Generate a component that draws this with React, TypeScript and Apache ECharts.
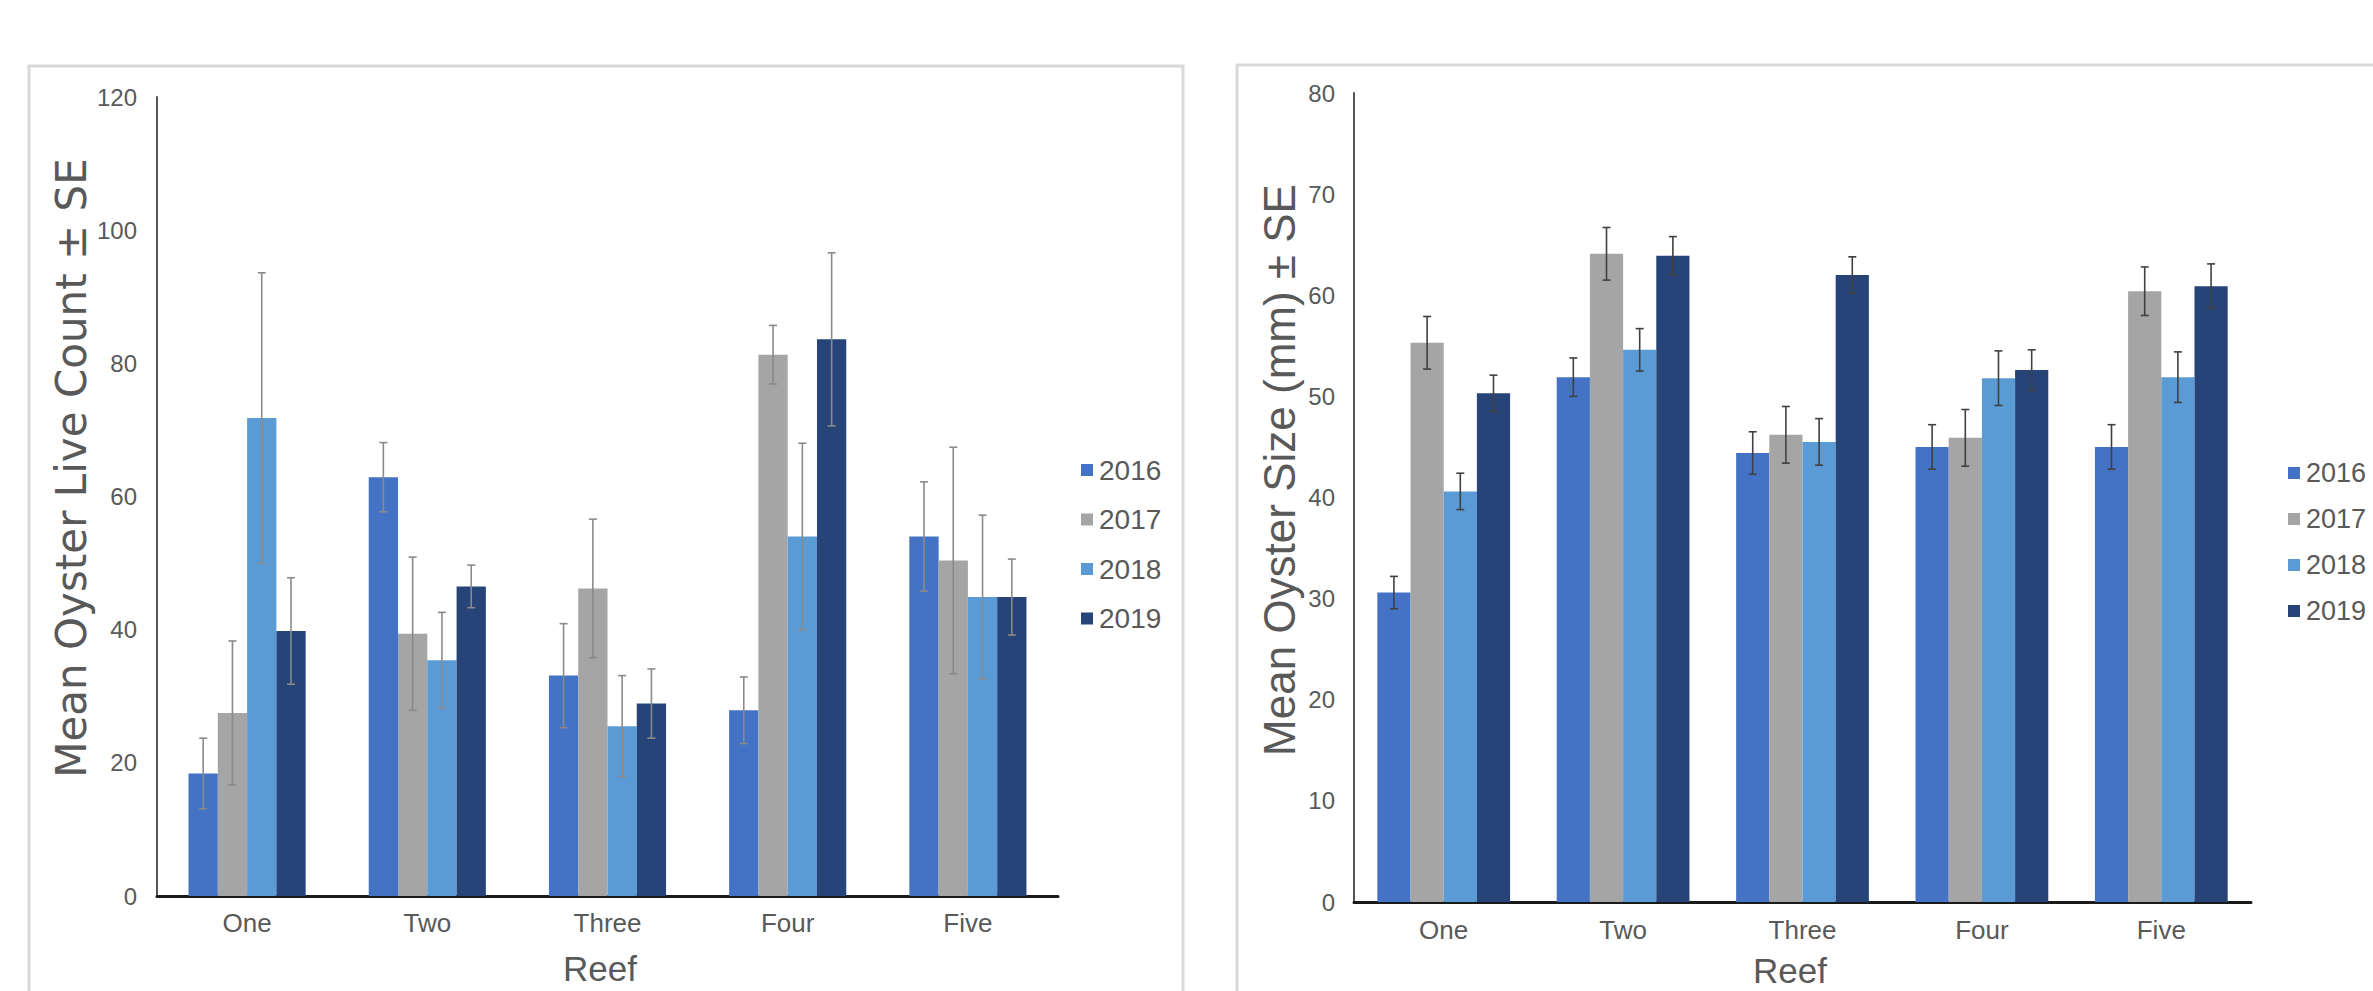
import React, { useEffect, useRef } from "react";
import * as echarts from "echarts";

const reefs = ["One", "Two", "Three", "Four", "Five"];
const years = ["2016", "2017", "2018", "2019"];
const colors = ["#4472C4", "#A5A5A5", "#5B9BD5", "#264478"];

// Left: Mean Oyster Live Count ± SE
const count2016 = [18.4, 62.9, 33.1, 27.9, 54.0];
const count2017 = [27.5, 39.4, 46.2, 81.3, 50.4];
const count2018 = [71.8, 35.4, 25.5, 54.0, 44.9];
const count2019 = [39.8, 46.5, 28.9, 83.6, 44.9];
const countSE2016 = [5.3, 5.2, 7.8, 5.0, 8.2];
const countSE2017 = [10.8, 11.5, 10.4, 4.4, 17.0];
const countSE2018 = [21.8, 7.2, 7.6, 14.0, 12.3];
const countSE2019 = [8.0, 3.2, 5.2, 13.0, 5.7];

// Right: Mean Oyster Size (mm) ± SE
const size2016 = [30.6, 51.9, 44.4, 45.0, 45.0];
const size2017 = [55.3, 64.1, 46.2, 45.9, 60.4];
const size2018 = [40.6, 54.6, 45.5, 51.8, 51.9];
const size2019 = [50.3, 63.9, 62.0, 52.6, 60.9];
const sizeSE2016 = [1.6, 1.9, 2.1, 2.2, 2.2];
const sizeSE2017 = [2.6, 2.6, 2.8, 2.8, 2.4];
const sizeSE2018 = [1.8, 2.1, 2.3, 2.7, 2.5];
const sizeSE2019 = [1.8, 1.9, 1.8, 2.0, 2.2];

const countTicks = { min: 0, max: 120, interval: 20 };
const sizeTicks = { min: 0, max: 80, interval: 10 };

const countMeans = [count2016, count2017, count2018, count2019];
const countSEs = [countSE2016, countSE2017, countSE2018, countSE2019];
const sizeMeans = [size2016, size2017, size2018, size2019];
const sizeSEs = [sizeSE2016, sizeSE2017, sizeSE2018, sizeSE2019];

const FONT = "'Liberation Sans', Arial, Helvetica, sans-serif";
const WIDE = "'DejaVu Sans', 'Liberation Sans', sans-serif";
const TXT = "#595959";

export default function App() {
  const ref = useRef<HTMLDivElement>(null);
  useEffect(() => {
    if (!ref.current) return;
    const chart = echarts.init(ref.current, null, { renderer: "svg" });

    const gapL = 0.35;
    const gapR = 0.26;

    const makeErr = (
      gi: number,
      s: number,
      means: number[],
      ses: number[],
      gap: number,
      color: string
    ) => ({
      type: "custom",
      name: "err" + gi + "_" + s,
      xAxisIndex: gi,
      yAxisIndex: gi,
      z: 5,
      silent: true,
      data: means.map((m, i) => [i, m - ses[i], m + ses[i]]),
      encode: { x: 0, y: [1, 2] },
      renderItem: (params: any, api: any) => {
        const lo = api.coord([api.value(0), api.value(1)]);
        const hi = api.coord([api.value(0), api.value(2)]);
        const catW = api.size([1, 0])[0];
        const bw = (catW * (1 - gap)) / 4;
        const cx = lo[0] + (s - 1.5) * bw;
        const cap = 4;
        const st = { stroke: color, lineWidth: 1.6 };
        return {
          type: "group",
          children: [
            { type: "line", shape: { x1: cx, y1: lo[1], x2: cx, y2: hi[1] }, style: st },
            { type: "line", shape: { x1: cx - cap, y1: lo[1], x2: cx + cap, y2: lo[1] }, style: st },
            { type: "line", shape: { x1: cx - cap, y1: hi[1], x2: cx + cap, y2: hi[1] }, style: st },
          ],
        };
      },
    });

    const series: any[] = [];
    years.forEach((y, s) => {
      series.push({
        type: "bar",
        name: y,
        xAxisIndex: 0,
        yAxisIndex: 0,
        data: countMeans[s],
        itemStyle: { color: colors[s] },
        barGap: "0%",
        barCategoryGap: gapL * 100 + "%",
      });
    });
    years.forEach((y, s) => {
      series.push({
        type: "bar",
        name: y,
        xAxisIndex: 1,
        yAxisIndex: 1,
        data: sizeMeans[s],
        itemStyle: { color: colors[s] },
        barGap: "0%",
        barCategoryGap: gapR * 100 + "%",
      });
    });
    years.forEach((y, s) => series.push(makeErr(0, s, countMeans[s], countSEs[s], gapL, "#8a8a8a")));
    years.forEach((y, s) => series.push(makeErr(1, s, sizeMeans[s], sizeSEs[s], gapR, "#404040")));

    const xAx = (gi: number, margin: number) => ({
      type: "category",
      gridIndex: gi,
      data: reefs,
      axisLine: { show: true, lineStyle: { color: "#1a1a1a", width: 3 } },
      axisTick: { show: false },
      axisLabel: { color: TXT, fontSize: 26, fontFamily: FONT, margin },
      splitLine: { show: false },
    });
    const yAx = (gi: number, t: any, margin: number) => ({
      type: "value",
      gridIndex: gi,
      min: t.min,
      max: t.max,
      interval: t.interval,
      axisLine: { show: true, lineStyle: { color: "#555555", width: 2 } },
      axisTick: { show: false },
      axisLabel: { color: TXT, fontSize: 24, fontFamily: FONT, margin },
      splitLine: { show: false },
    });

    const legend = (left: number, top: number, gap: number, fs: number) => ({
      orient: "vertical",
      left,
      top,
      padding: 0,
      data: years,
      icon: "rect",
      itemWidth: 12,
      itemHeight: 12,
      itemGap: gap,
      selectedMode: false,
      textStyle: { color: TXT, fontSize: fs, fontFamily: FONT, lineHeight: 30, padding: [0, 0, 0, 1] },
    });

    chart.setOption({
      animation: false,
      backgroundColor: "#ffffff",
      grid: [
        { left: 157, top: 97, width: 901, height: 799 },
        { left: 1354, top: 93, width: 897, height: 809 },
      ],
      xAxis: [xAx(0, 14), xAx(1, 15)],
      yAxis: [yAx(0, countTicks, 20), yAx(1, sizeTicks, 19)],
      legend: [legend(1081, 455, 19.5, 28), legend(2288, 458, 16, 27)],
      series,
      graphic: [
        {
          type: "rect",
          shape: { x: 29, y: 66, width: 1154, height: 1000 },
          style: { fill: "none", stroke: "#d9d9d9", lineWidth: 3 },
          silent: true,
        },
        {
          type: "rect",
          shape: { x: 1237, y: 65, width: 1200, height: 1000 },
          style: { fill: "none", stroke: "#d9d9d9", lineWidth: 3 },
          silent: true,
        },
        {
          type: "text",
          x: 71,
          y: 468,
          rotation: Math.PI / 2,
          style: {
            text: "Mean Oyster Live Count ± SE",
            fontSize: 42,
            fontFamily: WIDE,
            fill: TXT,
            align: "center",
            verticalAlign: "middle",
          },
        },
        {
          type: "text",
          x: 1279,
          y: 470,
          rotation: Math.PI / 2,
          style: {
            text: "Mean Oyster Size (mm) ± SE",
            fontSize: 44,
            fontFamily: FONT,
            fill: TXT,
            align: "center",
            verticalAlign: "middle",
          },
        },
        {
          type: "text",
          x: 600,
          y: 968,
          style: { text: "Reef", fontSize: 35, fontFamily: FONT, fill: TXT, align: "center", verticalAlign: "middle" },
        },
        {
          type: "text",
          x: 1790,
          y: 970,
          style: { text: "Reef", fontSize: 35, fontFamily: FONT, fill: TXT, align: "center", verticalAlign: "middle" },
        },
      ],
    });
    return () => chart.dispose();
  }, []);
  return <div ref={ref} style={{ position: "fixed", left: 0, top: 0, width: 2373, height: 991 }} />;
}
